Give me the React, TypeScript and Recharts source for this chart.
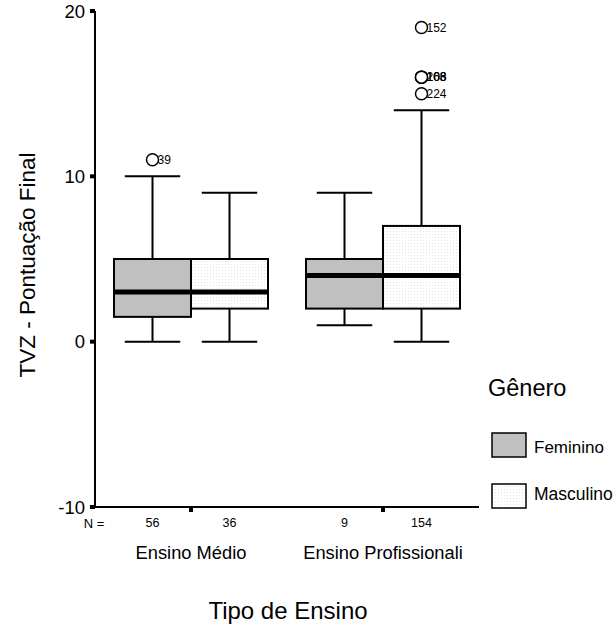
import { ComposedChart, Bar, XAxis, YAxis } from "recharts";

const categories = ["Ensino Médio", "Ensino Profissionali"];
const genders = ["Feminino", "Masculino"];

// five-number summaries per category
const femMin = [0, 1];
const femQ1 = [1.5, 2];
const femMedian = [3, 4];
const femQ3 = [5, 5];
const femMax = [10, 9];
const femN = [56, 9];

const mascMin = [0, 0];
const mascQ1 = [2, 2];
const mascMedian = [3, 4];
const mascQ3 = [5, 7];
const mascMax = [9, 14];
const mascN = [36, 154];

const femOutliers = [[{ value: 11, label: "39" }], []];
const mascOutliers = [
  [],
  [
    { value: 19, label: "152" },
    { value: 16, label: "166" },
    { value: 16, label: "203" },
    { value: 16, label: "108" },
    { value: 15, label: "224" },
  ],
];

const yTicks = [-10, 0, 10, 20];
const yMin = -10;
const yMax = 20;

const font = "'Liberation Sans', Arial, sans-serif";

const data = categories.map((name, i) => ({
  name,
  fem: [femQ1[i], femQ3[i]],
  femStats: {
    min: femMin[i], q1: femQ1[i], median: femMedian[i], q3: femQ3[i], max: femMax[i],
    n: femN[i], outliers: femOutliers[i],
  },
  masc: [mascQ1[i], mascQ3[i]],
  mascStats: {
    min: mascMin[i], q1: mascQ1[i], median: mascMedian[i], q3: mascQ3[i], max: mascMax[i],
    n: mascN[i], outliers: mascOutliers[i],
  },
}));

const boxShape = (key: string) => (props: any) => {
  const { x, y, width, height, payload } = props;
  const s = payload[key + "Stats"];
  const top = Math.min(y, y + height);
  const h = Math.abs(height);
  // linear map derived from the bar's own scaled q1/q3 positions
  const py = (v: number) => top + ((s.q3 - v) * h) / (s.q3 - s.q1);
  const cx = x + width / 2;
  const cap = width * 0.36;
  const fill = key === "fem" ? "#c0c0c0" : "url(#dots)";
  return (
    <g>
      <line x1={cx} x2={cx} y1={py(s.max)} y2={py(s.q3)} stroke="#000" strokeWidth={2} />
      <line x1={cx} x2={cx} y1={py(s.q1)} y2={py(s.min)} stroke="#000" strokeWidth={2} />
      <line x1={cx - cap} x2={cx + cap} y1={py(s.max)} y2={py(s.max)} stroke="#000" strokeWidth={2} />
      <line x1={cx - cap} x2={cx + cap} y1={py(s.min)} y2={py(s.min)} stroke="#000" strokeWidth={2} />
      <rect x={x} y={top} width={width} height={h} fill={fill} stroke="#000" strokeWidth={2} />
      <line x1={x} x2={x + width} y1={py(s.median)} y2={py(s.median)} stroke="#000" strokeWidth={5} />
      {s.outliers.map((o: any, j: number) => (
        <g key={j}>
          <circle cx={cx} cy={py(o.value)} r={6} fill="#fff" stroke="#000" strokeWidth={1.5} />
          <text x={cx + 5} y={py(o.value)} dy="0.35em" fontSize={12} fontFamily={font} fill="#000">
            {o.label}
          </text>
        </g>
      ))}
      <text x={cx} y={py(yMin) + 16} dy="0.35em" textAnchor="middle" fontSize={12.5} fontFamily={font}>
        {s.n}
      </text>
    </g>
  );
};

const CategoryTick = (props: any) => {
  const { x, y, payload } = props;
  return (
    <text x={x} y={y + 45} textAnchor="middle" fontSize={18.3} fontFamily={font} fill="#000">
      {payload.value}
    </text>
  );
};

export default function App() {
  return (
    <div style={{ position: "absolute", left: 0, top: 0, background: "#fff" }}>
      <ComposedChart
        width={614}
        height={626}
        data={data}
        margin={{ top: 11, right: 135, bottom: 59, left: 45 }}
        barGap={0}
        barSize={77}
      >
        <defs>
          <pattern id="dots" width={3} height={3} patternUnits="userSpaceOnUse">
            <rect width={3} height={3} fill="#fff" />
            <rect width={1} height={1} fill="#e4e4e4" />
          </pattern>
        </defs>
        <XAxis
          dataKey="name"
          height={60}
          axisLine={{ stroke: "#000", strokeWidth: 2 }}
          tickLine={{ stroke: "#000", strokeWidth: 4 }}
          tickSize={5}
          tick={<CategoryTick />}
        />
        <XAxis
          xAxisId="top"
          dataKey="name"
          orientation="top"
          height={0}
          tick={false}
          tickLine={false}
          axisLine={{ stroke: "#000", strokeWidth: 1.5 }}
        />
        <YAxis
          width={50}
          domain={[yMin, yMax]}
          ticks={yTicks}
          axisLine={{ stroke: "#000", strokeWidth: 2 }}
          tickLine={{ stroke: "#000", strokeWidth: 4 }}
          tickSize={5}
          tickMargin={5}
          tick={{ fill: "#000", fontSize: 18.5, fontFamily: font }}
        />
        <YAxis
          yAxisId="right"
          orientation="right"
          width={0}
          domain={[yMin, yMax]}
          tick={false}
          tickLine={false}
          axisLine={{ stroke: "#000", strokeWidth: 1.5 }}
        />
        <Bar dataKey="fem" name={genders[0]} shape={boxShape("fem")} isAnimationActive={false} />
        <Bar dataKey="masc" name={genders[1]} shape={boxShape("masc")} isAnimationActive={false} />

        <text x={94} y={523} dy="0.35em" textAnchor="middle" fontSize={13} fontFamily={font}>N =</text>
        <text
          x={27}
          y={265}
          transform="rotate(-90 27 265)"
          textAnchor="middle"
          dominantBaseline="central"
          fontSize={22.5}
          fontFamily={font}
        >
          TVZ - Pontuação Final
        </text>
        <text x={288} y={619} textAnchor="middle" fontSize={24} fontFamily={font}>
          Tipo de Ensino
        </text>

        <text x={488} y={396} fontSize={23.5} fontFamily={font}>Gênero</text>
        <rect x={492} y={433} width={34} height={24} fill="#c0c0c0" stroke="#000" strokeWidth={1.5} />
        <text x={534} y={447} dominantBaseline="central" fontSize={17} fontFamily={font}>{genders[0]}</text>
        <rect x={492} y={484} width={34} height={24} fill="url(#dots)" stroke="#000" strokeWidth={1.5} />
        <text x={534} y={494} dominantBaseline="central" fontSize={17.5} fontFamily={font}>{genders[1]}</text>
      </ComposedChart>
    </div>
  );
}
